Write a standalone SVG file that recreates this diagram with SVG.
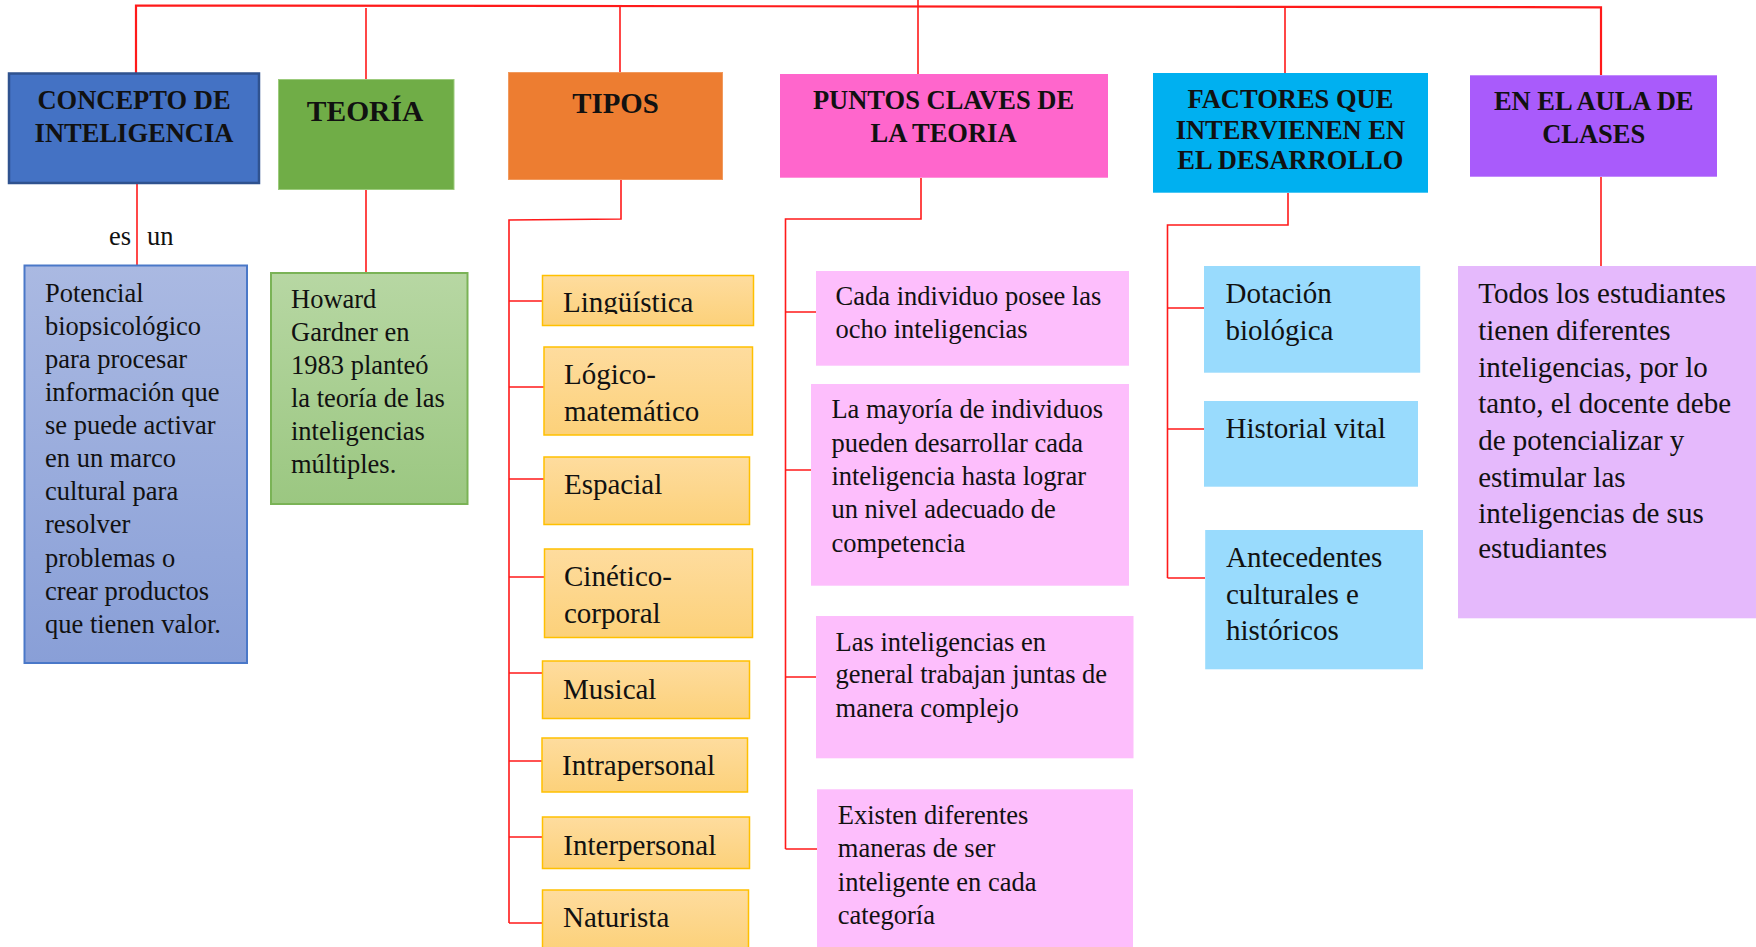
<svg xmlns="http://www.w3.org/2000/svg" width="1756" height="947" viewBox="0 0 1756 947">
<defs>
<style>
.t{font-family:"Liberation Serif","Times New Roman",serif;fill:#111}
.h{font-family:"Liberation Serif","Times New Roman",serif;font-weight:bold;fill:#111;text-anchor:middle;font-size:26.5px}
.s26{font-size:26.5px}
.s29{font-size:29px}
.ln{stroke:#FF1A1A;stroke-width:1.6;fill:none}
.tp{fill:url(#gOr);stroke:#FFC000;stroke-width:1.5}
.pk{fill:#FDBEFC}
.bl{fill:#99DBFD}
</style>
<linearGradient id="gBl" x1="0" y1="0" x2="0" y2="1"><stop offset="0" stop-color="#AAB9E2"/><stop offset="1" stop-color="#899FD7"/></linearGradient>
<linearGradient id="gGr" x1="0" y1="0" x2="0" y2="1"><stop offset="0" stop-color="#B7D7A3"/><stop offset="1" stop-color="#9BC781"/></linearGradient>
<linearGradient id="gOr" x1="0" y1="0" x2="0" y2="1"><stop offset="0" stop-color="#FEDC9E"/><stop offset="1" stop-color="#FCD17A"/></linearGradient>
<clipPath id="cLing"><rect x="540" y="275" width="215" height="39"/></clipPath>
</defs>
<rect width="1756" height="947" fill="#FFFFFF"/>

<g id="connectors">
<path class="ln" style="stroke-width:2.2" d="M136,73 V5.5 L1601,7.3 V75"/>
<path class="ln" d="M366,8 V79 M366,190 V273"/>
<path class="ln" d="M137,183 V266"/>
<path class="ln" d="M620,7 V72 M621,179 V219 L509,220 V923"/>
<path class="ln" d="M509,301 H542 M509,387 H544 M509,479 H544 M509,577 H544 M509,673 H542 M509,761 H542 M509,837 H542 M509,923 H542"/>
<path class="ln" d="M918,0 V74 M921,178 V219 H785.5 V849"/>
<path class="ln" d="M785.5,312 H816 M785.5,470 H811 M785.5,677 H816 M785.5,849 H817"/>
<path class="ln" d="M1285,7 V73 M1288,193 V225 H1167.5 V578"/>
<path class="ln" d="M1167.5,308 H1204 M1167.5,429 H1204 M1167.5,578 H1205"/>
<path class="ln" d="M1601,177 V266"/>
<text class="t s26" x="109" y="245">es</text>
<text class="t s26" x="147" y="245">un</text>
</g>

<g id="concepto">
<rect x="9" y="73.5" width="250" height="109.5" fill="#4472C4" stroke="#2F528F" stroke-width="2.5"/>
<text class="h" x="134" y="108.7">CONCEPTO DE</text>
<text class="h" x="134" y="141.7">INTELIGENCIA</text>
</g>
<g id="concepto-def">
<rect x="24.5" y="265.5" width="222.5" height="397.5" fill="url(#gBl)" stroke="#4A78C8" stroke-width="2"/>
<text class="t s26" x="45">
<tspan x="45" y="301.7">Potencial</tspan>
<tspan x="45" y="334.8">biopsicológico</tspan>
<tspan x="45" y="367.9">para procesar</tspan>
<tspan x="45" y="401">información que</tspan>
<tspan x="45" y="434.1">se puede activar</tspan>
<tspan x="45" y="467.2">en un marco</tspan>
<tspan x="45" y="500.3">cultural para</tspan>
<tspan x="45" y="533.4">resolver</tspan>
<tspan x="45" y="566.5">problemas o</tspan>
<tspan x="45" y="599.6">crear productos</tspan>
<tspan x="45" y="632.7">que tienen valor.</tspan>
</text>
</g>

<g id="teoria">
<rect x="278.5" y="79.5" width="175.5" height="110" fill="#70AD47" stroke="#9CCB7C" stroke-width="1"/>
<text class="h" x="365" y="120.7" style="font-size:29.5px">TEORÍA</text>
</g>
<g id="teoria-def">
<rect x="271" y="273" width="196.5" height="231" fill="url(#gGr)" stroke="#7AB356" stroke-width="2"/>
<text class="t s26">
<tspan x="291" y="308.3">Howard</tspan>
<tspan x="291" y="341.3">Gardner en</tspan>
<tspan x="291" y="374.3">1983 planteó</tspan>
<tspan x="291" y="407.3">la teoría de las</tspan>
<tspan x="291" y="440.3">inteligencias</tspan>
<tspan x="291" y="473.3">múltiples.</tspan>
</text>
</g>

<g id="tipos">
<rect x="508.5" y="72.5" width="214" height="107" fill="#ED7D31" stroke="#F19A5E" stroke-width="1"/>
<text class="h" x="615.5" y="112.7" style="font-size:28.8px">TIPOS</text>
</g>
<g id="t-linguistica">
<rect class="tp" x="542.5" y="275.5" width="211" height="50"/>
<text class="t s29" x="563" y="312.3" clip-path="url(#cLing)">Lingüística</text>
</g>
<g id="t-logico">
<rect class="tp" x="544" y="347" width="208.5" height="88"/>
<text class="t s29"><tspan x="564" y="384">Lógico-</tspan><tspan x="564" y="420.7">matemático</tspan></text>
</g>
<g id="t-espacial">
<rect class="tp" x="544" y="457" width="205.5" height="67.5"/>
<text class="t s29" x="564" y="494.3">Espacial</text>
</g>
<g id="t-cinetico">
<rect class="tp" x="544.5" y="549" width="208" height="88.5"/>
<text class="t s29"><tspan x="564" y="586">Cinético-</tspan><tspan x="564" y="623.3">corporal</tspan></text>
</g>
<g id="t-musical">
<rect class="tp" x="542.5" y="661" width="207" height="57.5"/>
<text class="t s29" x="563" y="699">Musical</text>
</g>
<g id="t-intrapersonal">
<rect class="tp" x="542" y="738" width="205.5" height="54"/>
<text class="t s29" x="562" y="775">Intrapersonal</text>
</g>
<g id="t-interpersonal">
<rect class="tp" x="542.5" y="817" width="207" height="51.5"/>
<text class="t s29" x="563.3" y="855">Interpersonal</text>
</g>
<g id="t-naturista">
<rect class="tp" x="542.5" y="890" width="206" height="60"/>
<text class="t s29" x="563" y="927.3">Naturista</text>
</g>

<g id="puntos">
<rect x="780" y="74" width="328" height="103.7" fill="#FF66CC"/>
<text class="h" x="943.5" y="109.3">PUNTOS CLAVES DE</text>
<text class="h" x="943.5" y="141.7">LA TEORIA</text>
</g>
<g id="p1">
<rect class="pk" x="816" y="271" width="313" height="94.7"/>
<text class="t s26"><tspan x="835.6" y="305">Cada individuo posee las</tspan><tspan x="835.6" y="338.3">ocho inteligencias</tspan></text>
</g>
<g id="p2">
<rect class="pk" x="811" y="384" width="318" height="201.7"/>
<text class="t s26">
<tspan x="831.4" y="418.3">La mayoría de individuos</tspan>
<tspan x="831.4" y="451.7">pueden desarrollar cada</tspan>
<tspan x="831.4" y="485">inteligencia hasta lograr</tspan>
<tspan x="831.4" y="518.3">un nivel adecuado de</tspan>
<tspan x="831.4" y="551.7">competencia</tspan>
</text>
</g>
<g id="p3">
<rect class="pk" x="816" y="616" width="317.5" height="142.3"/>
<text class="t s26">
<tspan x="835.6" y="650.7">Las inteligencias en</tspan>
<tspan x="835.6" y="683.3">general trabajan juntas de</tspan>
<tspan x="835.6" y="716.7">manera complejo</tspan>
</text>
</g>
<g id="p4">
<rect class="pk" x="817" y="789.3" width="316" height="160"/>
<text class="t s26">
<tspan x="837.8" y="824.3">Existen diferentes</tspan>
<tspan x="837.8" y="857.3">maneras de ser</tspan>
<tspan x="837.8" y="890.7">inteligente en cada</tspan>
<tspan x="837.8" y="924">categoría</tspan>
</text>
</g>

<g id="factores">
<rect x="1153" y="73" width="275" height="119.7" fill="#00B0F0"/>
<text class="h" x="1290.4" y="108.3">FACTORES QUE</text>
<text class="h" x="1290.4" y="139.3">INTERVIENEN EN</text>
<text class="h" x="1290.4" y="169.3">EL DESARROLLO</text>
</g>
<g id="f1">
<rect class="bl" x="1204" y="266" width="216.2" height="106.7"/>
<text class="t s29"><tspan x="1225.5" y="303.3">Dotación</tspan><tspan x="1225.5" y="340">biológica</tspan></text>
</g>
<g id="f2">
<rect class="bl" x="1204" y="401" width="214" height="85.7"/>
<text class="t s29" x="1225.5" y="438.3">Historial vital</text>
</g>
<g id="f3">
<rect class="bl" x="1205.2" y="530" width="217.8" height="139.3"/>
<text class="t s29"><tspan x="1226" y="566.7">Antecedentes</tspan><tspan x="1226" y="604">culturales e</tspan><tspan x="1226" y="640">históricos</tspan></text>
</g>

<g id="aula">
<rect x="1470" y="75.3" width="247" height="101.4" fill="#A95BFB"/>
<text class="h" x="1593.7" y="110">EN EL AULA DE</text>
<text class="h" x="1593.7" y="143.3">CLASES</text>
</g>
<g id="aula-def">
<rect x="1458" y="266" width="300" height="352.3" fill="#E5B9FC"/>
<text class="t s29">
<tspan x="1478.2" y="303.3">Todos los estudiantes</tspan>
<tspan x="1478.2" y="340">tienen diferentes</tspan>
<tspan x="1478.2" y="376.7">inteligencias, por lo</tspan>
<tspan x="1478.2" y="413.3">tanto, el docente debe</tspan>
<tspan x="1478.2" y="450">de potencializar y</tspan>
<tspan x="1478.2" y="486.7">estimular las</tspan>
<tspan x="1478.2" y="523.3">inteligencias de sus</tspan>
<tspan x="1478.2" y="558.3">estudiantes</tspan>
</text>
</g>
</svg>
